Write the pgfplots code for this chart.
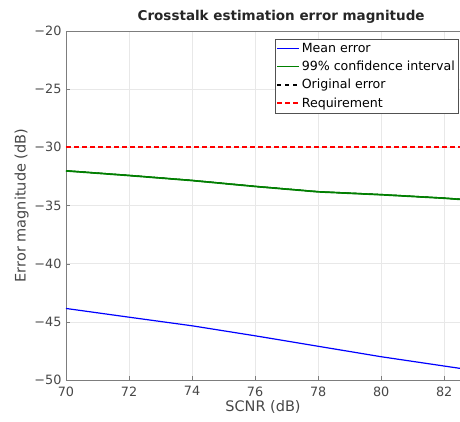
\documentclass[border=0pt]{standalone}
\usepackage{fontspec}
\setmainfont{DejaVu Sans}
\usepackage{pgfplots}
\pgfplotsset{compat=1.18}
\definecolor{axgray}{RGB}{38,38,38}
\definecolor{mblue}{RGB}{0,0,255}
\definecolor{mgreen}{RGB}{0,128,0}

\begin{document}
\begin{tikzpicture}
\begin{axis}[
    name=ax,
    scale only axis,
    width=394pt, height=349pt,
    xmin=70, xmax=82.5,
    ymin=-50, ymax=-20,
    xtick={70,72,...,82},
    ytick={-50,-45,...,-20},
    yticklabels={−50,−45,−40,−35,−30,−25,−20},
    /pgf/number format/assume math mode=true,
    ticklabel style={font=\fontsize{12.8}{14}\selectfont, text=axgray!85},
    xticklabel style={yshift=-3pt},
    yticklabel style={xshift=-1pt},
    xlabel={SCNR (dB)},
    ylabel={Error magnitude (dB)},
    label style={font=\fontsize{14.5}{16}\selectfont, text=axgray!85},
    xlabel style={yshift=3pt},
    ylabel style={yshift=-1pt},
    title={\bfseries Crosstalk estimation error magnitude},
    title style={font=\fontsize{13.5}{15}\selectfont, text=axgray, at={(0.546,1)}, yshift=-2pt},
    axis line style={axgray!60},
    tick style={axgray!60},
    major tick length=4pt,
    tick align=inside,
    xtick pos=bottom, ytick pos=left,
    grid=major,
    grid style={gray!18, line width=0.5pt},
    legend style={at={(0.995,0.977)}, anchor=north east,
        font=\fontsize{12.6}{14}\selectfont, draw=axgray!80,
        inner xsep=1pt, inner ysep=2pt, row sep=3.2pt, cells={anchor=west}},
    legend cell align=left,
    legend image code/.code={\draw[#1, line width=1.5pt] (-3pt,0pt) -- (19pt,0pt);},
]
\addplot[mblue, line width=1.2pt] coordinates {
(70,-43.85) (72,-44.6) (74,-45.34) (76,-46.2) (78,-47.1) (80,-48.0) (82,-48.8) (82.5,-49.0)};
\addlegendentry{Mean error}
\addplot[mgreen, line width=1.1pt] coordinates {
(70,-32.0) (72,-32.4) (74,-32.83) (76,-33.34) (78,-33.8) (80,-34.05) (82,-34.35) (82.5,-34.45)};
\addlegendentry{99\% confidence interval}
\addplot[black, line width=1.1pt, dash pattern=on 4pt off 4pt] coordinates {
(70,-32.02) (72,-32.42) (74,-32.85) (76,-33.36) (78,-33.82) (80,-34.07) (82,-34.37) (82.5,-34.47)};
\addlegendentry{Original error}
\addplot[red, line width=2pt, dash pattern=on 5pt off 3pt] coordinates {(70,-30) (82.5,-30)};
\addlegendentry{Requirement}
\addplot[mgreen, line width=1.1pt, forget plot] coordinates {
(70,-32.05) (72,-32.45) (74,-32.88) (76,-33.39) (78,-33.85) (80,-34.1) (82,-34.4) (82.5,-34.5)};
\addplot[mgreen, line width=1.1pt, forget plot] coordinates {
(70,-32.0) (72,-32.4) (74,-32.83) (76,-33.34) (78,-33.8) (80,-34.05) (82,-34.35) (82.5,-34.45)};
\end{axis}
\pgfresetboundingbox
\path ([shift={(-66pt,-41pt)}]ax.south west) rectangle ([shift={(0pt,31pt)}]ax.north east);
\end{tikzpicture}
\end{document}
